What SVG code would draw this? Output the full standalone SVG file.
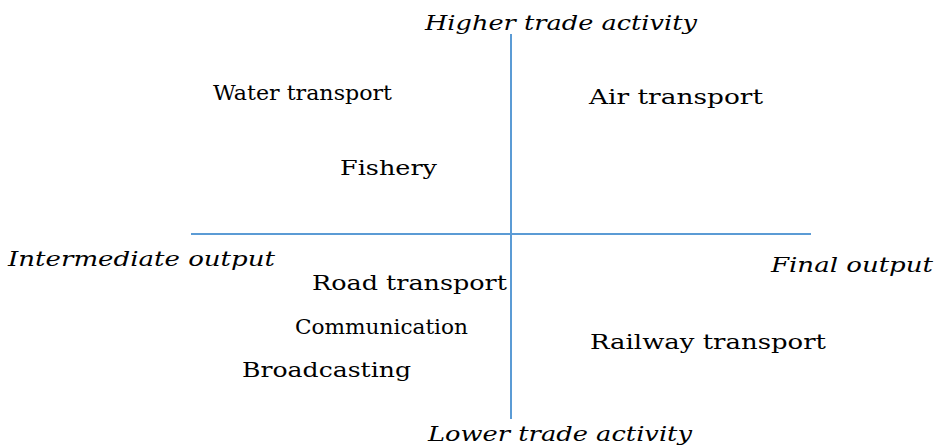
<svg xmlns="http://www.w3.org/2000/svg" width="938" height="447" viewBox="0 0 938 447">
<style>
text{font-family:"DejaVu Serif","Liberation Serif",serif;font-size:21px;fill:#000}
.ax{font-style:italic}
.axis{stroke:#5b9bd5;stroke-width:2;fill:none}
</style>
<rect width="938" height="447" fill="#fff"/>
<g id="connectors">
<line class="axis" x1="511" y1="34" x2="511" y2="419"/>
<line class="axis" x1="191" y1="234" x2="811" y2="234"/>
</g>
<g id="axis-top"><text class="ax" x="425" y="30" textLength="272" lengthAdjust="spacingAndGlyphs">Higher trade activity</text></g>
<g id="axis-bottom"><text class="ax" x="428" y="441" textLength="264" lengthAdjust="spacingAndGlyphs">Lower trade activity</text></g>
<g id="axis-left"><text class="ax" x="8" y="266" textLength="267" lengthAdjust="spacingAndGlyphs">Intermediate output</text></g>
<g id="axis-right"><text class="ax" x="771" y="272" textLength="162" lengthAdjust="spacingAndGlyphs">Final output</text></g>
<g id="water"><text x="213" y="100" textLength="179" lengthAdjust="spacingAndGlyphs">Water transport</text></g>
<g id="air"><text x="589" y="104" textLength="174" lengthAdjust="spacingAndGlyphs">Air transport</text></g>
<g id="fishery"><text x="340" y="175" textLength="97" lengthAdjust="spacingAndGlyphs">Fishery</text></g>
<g id="road"><text x="312" y="290" textLength="195" lengthAdjust="spacingAndGlyphs">Road transport</text></g>
<g id="communication"><text x="295" y="334" textLength="173" lengthAdjust="spacingAndGlyphs">Communication</text></g>
<g id="railway"><text x="590" y="349" textLength="236" lengthAdjust="spacingAndGlyphs">Railway transport</text></g>
<g id="broadcasting"><text x="242" y="377" textLength="169" lengthAdjust="spacingAndGlyphs">Broadcasting</text></g>
</svg>
